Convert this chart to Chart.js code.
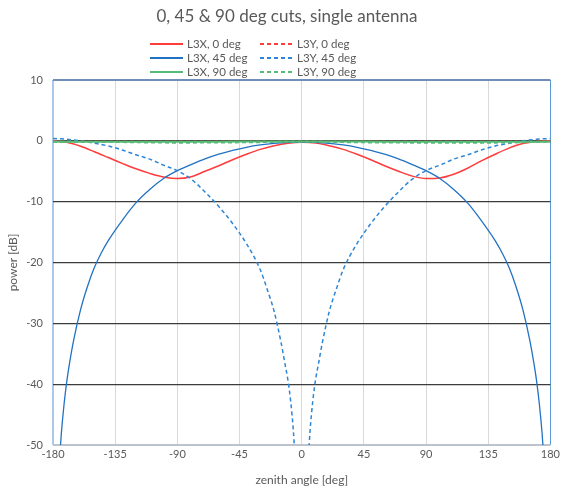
<!DOCTYPE html>
<html>
<head>
<meta charset="utf-8">
<script src="https://cdn.jsdelivr.net/npm/chart.js@4.4.1/dist/chart.umd.min.js"></script>
<style>
  html, body { margin: 0; padding: 0; background: #fff; }
  #wrap { position: relative; width: 563px; height: 492px; font-family: Lato, 'Open Sans', sans-serif; color: #595959; }
  #title { position: absolute; left: 0; width: 574px; top: 5px; text-align: center; font-size: 17px; }
  .leg { position: absolute; font-size: 11.5px; line-height: 14px; white-space: nowrap; }
  .sw { position: absolute; height: 2px; }
  canvas { position: absolute; left: 0; top: 0; }
</style>
</head>
<body>
<div id="wrap">
  <canvas id="c" width="563" height="492"></canvas>
  <div id="title">0, 45 &amp; 90 deg cuts, single antenna</div>
  <div id="legend"></div>
</div>
<script>
// L3X, 0 deg
const l3x0Angle = [-180, -170, -160, -150, -140, -130, -120, -110, -100, -90, -80, -70, -60, -50, -40, -30, -20, -10, 0,
                   10, 20, 30, 40, 50, 60, 70, 80, 90, 100, 110, 120, 130, 140, 150, 160, 170, 180];
const l3x0Power = [0, -0.25, -0.9, -1.8, -2.75, -3.7, -4.6, -5.35, -5.95, -6.2, -5.9, -5.0, -4.1, -3.1, -2.2, -1.4, -0.8, -0.4, -0.25,
                   -0.35, -0.8, -1.4, -2.2, -3.1, -4.1, -5.0, -5.8, -6.2, -6.1, -5.5, -4.5, -3.3, -2.2, -1.2, -0.45, -0.1, 0];

// L3Y, 0 deg (sits under the 90 deg traces)
const l3y0Angle = [-180, -90, 0, 90, 180];
const l3y0Power = [-0.1, -0.1, -0.1, -0.1, -0.1];

// L3X, 45 deg
const l3x45Angle = [-175, -174, -172, -170, -168, -165, -160, -155, -150, -145, -140, -130, -120, -110, -100, -90, -80, -70, -60, -50, -40, -30, -20, -10, 0,
                    10, 20, 30, 40, 50, 60, 70, 80, 90, 100, 110, 120, 130, 140, 145, 150, 155, 160, 165, 168, 170, 172, 174, 175];
const l3x45Power = [-51.5, -48.2, -43.3, -39.5, -36.5, -32.7, -27.7, -23.9, -20.8, -18.4, -16.4, -13.1, -10.2, -8.0, -6.2, -4.9, -3.9, -2.97, -2.2, -1.57, -1.06, -0.68, -0.41, -0.25, -0.2,
                    -0.25, -0.41, -0.68, -1.06, -1.57, -2.2, -2.97, -3.9, -4.9, -6.2, -8.0, -10.2, -13.1, -16.4, -18.4, -20.8, -23.9, -27.7, -32.7, -36.5, -39.5, -43.3, -48.2, -51.5];

// L3Y, 45 deg
const l3y45Angle = [-180, -170, -160, -150, -140, -130, -120, -110, -100, -90, -80, -70, -60, -50, -40, -30, -25, -20, -15, -12, -10, -8, -6, -5, 0,
                    5, 6, 8, 10, 12, 15, 20, 25, 30, 40, 50, 60, 70, 80, 90, 100, 110, 120, 130, 140, 150, 160, 170, 180];
const l3y45Power = [0.4, 0.25, 0, -0.4, -0.85, -1.5, -2.3, -3.0, -4.0, -4.9, -6.3, -8.4, -10.8, -13.6, -16.9, -21.2, -24.4, -28.0, -33.1, -36.8, -39.3, -42.8, -47.8, -51.5, null,
                    -51.5, -47.8, -42.8, -39.3, -36.8, -33.1, -28.0, -24.4, -21.2, -16.9, -13.6, -10.8, -8.4, -6.3, -4.9, -4.0, -3.0, -2.3, -1.5, -0.85, -0.4, 0, 0.25, 0.4];

// L3X, 90 deg
const l3x90Angle = [-180, -135, -90, -45, 0, 45, 90, 135, 180];
const l3x90Power = [-0.15, -0.15, -0.15, -0.12, -0.1, -0.12, -0.15, -0.15, -0.15];

// L3Y, 90 deg
const l3y90Angle = [-180, -135, -90, -45, 0, 45, 90, 135, 180];
const l3y90Power = [-0.15, -0.2, -0.3, -0.25, -0.15, -0.25, -0.3, -0.3, -0.15];

const seriesNames = ['L3X, 0 deg', 'L3Y, 0 deg', 'L3X, 45 deg', 'L3Y, 45 deg', 'L3X, 90 deg', 'L3Y, 90 deg'];
const seriesColors = ['#ff3b3b', '#ff3b3b', '#2272c3', '#2e86d6', '#55bb77', '#55bb77'];
const seriesDashed = [false, true, false, true, false, true];
const seriesWidth = [1.5, 1.5, 1.3, 1.5, 2, 2];
const seriesAngles = [l3x0Angle, l3y0Angle, l3x45Angle, l3y45Angle, l3x90Angle, l3y90Angle];
const seriesPower = [l3x0Power, l3y0Power, l3x45Power, l3y45Power, l3x90Power, l3y90Power];

const xTicks = [-180, -135, -90, -45, 0, 45, 90, 135, 180];
const yTicks = [-50, -40, -30, -20, -10, 0, 10];

const textColor = '#595959';
const fontFamily = "Lato, 'Open Sans', sans-serif";

function toPoints(angles, power) {
    return angles.map((a, i) => ({ x: a, y: power[i] }));
}

const datasets = seriesNames.map((name, i) => ({
    label: name,
    data: toPoints(seriesAngles[i], seriesPower[i]),
    borderColor: seriesColors[i],
    borderWidth: seriesWidth[i],
    borderDash: seriesDashed[i] ? [4, 3] : [],
    pointRadius: 0,
    fill: false,
    spanGaps: false,
    cubicInterpolationMode: 'monotone',
    order: seriesNames.length - i  // later series on top, like the original
}));

// html legend, two columns
const legend = document.getElementById('legend');
seriesNames.forEach((name, i) => {
    const col = i % 2, row = Math.floor(i / 2);
    const cy = 43.5 + row * 14;
    const x0 = col === 0 ? 150 : 260;
    const sw = document.createElement('div');
    sw.className = 'sw';
    sw.style.left = x0 + 'px';
    sw.style.top = (cy - 1) + 'px';
    sw.style.width = '33px';
    sw.style.background = seriesDashed[i]
        ? `repeating-linear-gradient(90deg, ${seriesColors[i]} 0 4px, transparent 4px 7px)`
        : seriesColors[i];
    legend.appendChild(sw);
    const t = document.createElement('div');
    t.className = 'leg';
    t.style.left = (x0 + 37) + 'px';
    t.style.top = (cy - 7) + 'px';
    t.textContent = name;
    legend.appendChild(t);
});

new Chart(document.getElementById('c'), {
    type: 'line',
    data: { datasets: datasets },
    options: {
        responsive: false,
        animation: false,
        layout: { padding: { top: 80, right: 11, bottom: 0, left: 0 } },
        plugins: {
            legend: { display: false },
            tooltip: { enabled: false },
            title: { display: false }
        },
        scales: {
            x: {
                type: 'linear',
                min: -180,
                max: 180,
                afterBuildTicks: s => { s.ticks = xTicks.map(v => ({ value: v })); },
                afterFit: s => { s.height = 47; },
                border: { display: false },
                grid: {
                    drawTicks: false,
                    color: c => c.tick.value === -180 ? '#a9c8ea' : (c.tick.value === 180 ? '#5b9bd5' : '#d9d9d9'),
                    lineWidth: c => c.tick.value === -180 ? 2 : 1
                },
                ticks: { color: textColor, padding: 3, font: { family: fontFamily, size: 11 } },
                title: {
                    display: true,
                    text: 'zenith angle [deg]',
                    color: textColor,
                    font: { family: fontFamily, size: 12 },
                    padding: { top: 0, bottom: 5 }
                }
            },
            y: {
                min: -50,
                max: 10,
                afterBuildTicks: s => { s.ticks = yTicks.map(v => ({ value: v })); },
                afterFit: s => { s.width = 53; },
                border: { display: false },
                grid: {
                    drawTicks: false,
                    color: c => c.tick.value === 10 ? '#6f8fb8' : (c.tick.value === -50 ? '#bcc3cc' : '#3c3c3c'),
                    lineWidth: c => (c.tick.value === 10 || c.tick.value === -50) ? 2 : 1.2
                },
                ticks: { color: textColor, padding: 10, font: { family: fontFamily, size: 11 } },
                title: {
                    display: true,
                    text: 'power [dB]',
                    color: textColor,
                    font: { family: fontFamily, size: 12 },
                    padding: { top: 6, bottom: 0 }
                }
            }
        }
    }
});
</script>
</body>
</html>
